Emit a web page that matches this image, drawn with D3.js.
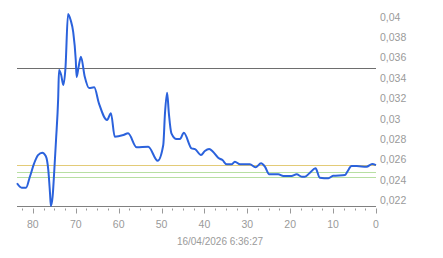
<!DOCTYPE html>
<html>
<head>
<meta charset="utf-8">
<script src="https://cdn.jsdelivr.net/npm/d3@7"></script>
<style>
  body { margin: 0; background: #fff; }
  text { font-family: "Liberation Sans", Arial, sans-serif; fill: #9a9a9a; }
</style>
</head>
<body>
<div id="chart"></div>
<script>
// minutes back from now, and the value at that time
var ages = [83.7, 82.6, 81.6, 80.7, 79.7, 78.8, 77.8, 77.0, 76.4, 76.0, 75.8, 75.4, 75.0, 74.6, 74.1, 73.9,
  73.4, 72.9, 72.4, 71.8, 71.2, 70.6, 70.0, 69.8, 69.3, 68.8, 67.9, 66.9, 65.7, 64.6, 62.7, 61.8, 60.9,
  58.9, 57.8, 55.8, 53.1, 50.9, 49.6, 49.2, 48.7, 48.3, 47.7, 46.5, 45.7, 44.8, 43.0, 42.2, 40.8, 39.9,
  38.9, 38.0, 36.8, 35.8, 34.8, 33.7, 32.9, 31.7, 29.4, 28.1, 26.8, 25.9, 24.9, 22.8, 21.6, 19.7, 18.5,
  17.3, 16.6, 15.4, 14.1, 13.1, 11.1, 10.0, 7.2, 6.7, 5.7, 4.5, 2.2, 0.9, 0];
var values = [0.02364, 0.02320, 0.02320, 0.02428, 0.02560, 0.02641, 0.02664, 0.02632, 0.02494, 0.02265,
  0.02141, 0.02232, 0.02494, 0.02789, 0.03198, 0.03476, 0.03427, 0.03329, 0.03496, 0.04027, 0.03968,
  0.03850, 0.03575, 0.03408, 0.03516, 0.03607, 0.03411, 0.03300, 0.03306, 0.03149, 0.02985, 0.03051,
  0.02821, 0.02838, 0.02855, 0.02717, 0.02723, 0.02585, 0.02740, 0.03051, 0.03253, 0.03054, 0.02855,
  0.02799, 0.02799, 0.02861, 0.02707, 0.02700, 0.02641, 0.02681, 0.02700, 0.02674, 0.02615, 0.02592,
  0.02550, 0.02550, 0.02576, 0.02550, 0.02550, 0.02521, 0.02560, 0.02527, 0.02452, 0.02452, 0.02435,
  0.02435, 0.02452, 0.02428, 0.02428, 0.02468, 0.02511, 0.02419, 0.02413, 0.02438, 0.02445, 0.02477,
  0.02533, 0.02533, 0.02527, 0.02553, 0.02543];

var yTicks = [0.022, 0.024, 0.026, 0.028, 0.03, 0.032, 0.034, 0.036, 0.038, 0.04];
var xTicks = [80, 70, 60, 50, 40, 30, 20, 10, 0];
var refValues = [0.03493, 0.02543, 0.02472, 0.02422];
var refColors = ["#6e6e6e", "#e3cb78", "#b7dfa2", "#b7dfa2"];
var yMin = 0.02141;
var stamp = "16/04/2026 6:36:27";

var svgWidth = 443;
var svgHeight = 258;

var svg = d3.select("#chart")
  .append("svg")
  .attr("width", svgWidth)
  .attr("height", svgHeight);

var x = d3.scaleLinear()
  .domain([83.7, 0])
  .range([17, 376]);

var y = d3.scaleLinear()
  .domain([0.022, 0.04])
  .range([200, 16.7]);

var data = ages.map(function(a, i) { return { age: a, value: values[i] }; });

// reference lines
svg.selectAll(".ref")
  .data(refValues)
  .enter()
  .append("line")
  .attr("x1", x.range()[0])
  .attr("x2", x.range()[1])
  .attr("y1", d => Math.round(y(d)) + 0.5)
  .attr("y2", d => Math.round(y(d)) + 0.5)
  .attr("stroke", (d, i) => refColors[i])
  .attr("stroke-width", 1);

// baseline
var base = Math.round(y(yMin)) + 0.5;
svg.append("line")
  .attr("x1", x.range()[0])
  .attr("x2", x.range()[1])
  .attr("y1", base)
  .attr("y2", base)
  .attr("stroke", "#808080");

// minor ticks every 2.5, longer on the tens
var minor = d3.range(0, 83, 2.5);
svg.selectAll(".minor")
  .data(minor)
  .enter()
  .append("line")
  .attr("x1", d => Math.round(x(d)) + 0.5)
  .attr("x2", d => Math.round(x(d)) + 0.5)
  .attr("y1", base + 2)
  .attr("y2", d => d % 10 === 0 ? base + 7 : base + 4)
  .attr("stroke", "#999");

svg.selectAll(".xlab")
  .data(xTicks)
  .enter()
  .append("text")
  .attr("x", d => x(d))
  .attr("y", base + 21)
  .attr("text-anchor", "middle")
  .attr("font-size", "10.5px")
  .text(d => d);

svg.selectAll(".ylab")
  .data(yTicks)
  .enter()
  .append("text")
  .attr("x", 380)
  .attr("y", d => y(d) + 4)
  .attr("font-size", "10.5px")
  .text(d => String(d).replace(".", ","));

svg.append("text")
  .attr("x", 220)
  .attr("y", 245)
  .attr("text-anchor", "middle")
  .attr("font-size", "10px")
  .text(stamp);

var line = d3.line()
  .x(d => x(d.age))
  .y(d => y(d.value))
  .curve(d3.curveMonotoneX);

svg.append("path")
  .datum(data)
  .attr("d", line)
  .attr("fill", "none")
  .attr("stroke", "#2b62dc")
  .attr("stroke-width", 2)
  .attr("stroke-linejoin", "round");
</script>
</body>
</html>
